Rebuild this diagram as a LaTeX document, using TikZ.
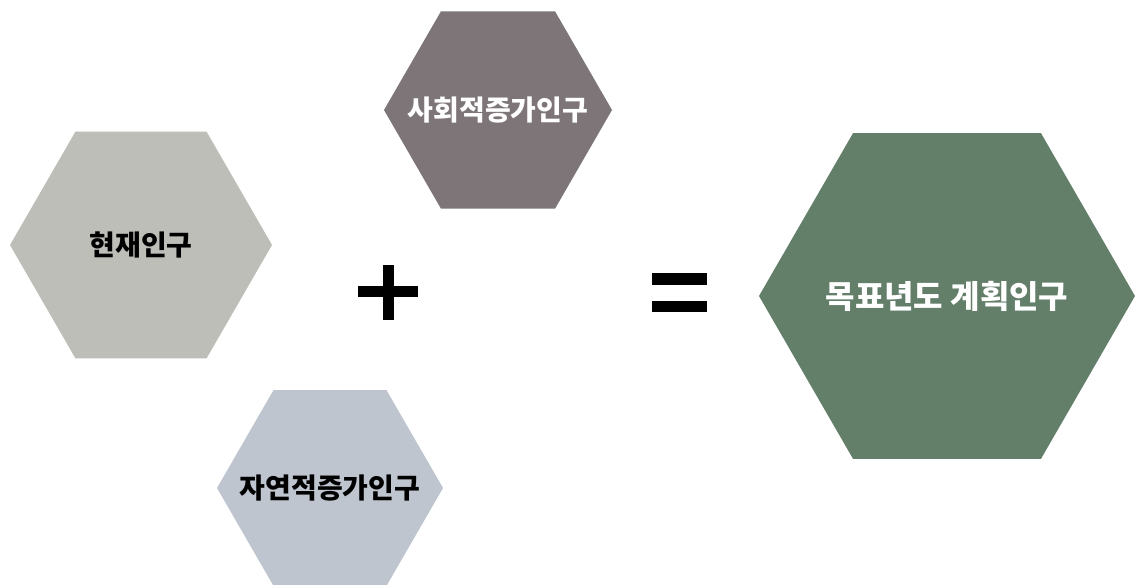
\documentclass[tikz,border=0pt]{standalone}
\usepackage{fontspec}
\newfontfamily\kr{Noto Sans CJK KR}
\usetikzlibrary{shapes.geometric}
\definecolor{hexA}{RGB}{189,190,184}
\definecolor{hexB}{RGB}{125,117,120}
\definecolor{hexC}{RGB}{190,197,207}
\definecolor{hexD}{RGB}{99,127,106}
\newcommand{\hx}[1]{\makebox[0pt]{#1}}
\tikzset{
  hexbox/.style={regular polygon, regular polygon sides=6, inner sep=0pt, draw=none, font=\kr\bfseries\fontsize{28}{32}\selectfont},
  opbar/.style={fill=black, draw=none}
}
\begin{document}
\begin{tikzpicture}[x=1pt,y=-1pt]
\useasboundingbox[fill=white] (0,0) rectangle (1136,585);
\node[hexbox, fill=hexA, minimum size=262pt, text=black] (cur) at (141,245) {\hx{현재인구}};
\node[hexbox, fill=hexB, minimum size=228pt, text=white] (soc) at (498,110) {\hx{사회적증가인구}};
\node[hexbox, fill=hexC, minimum size=226pt, text=black] (nat) at (330,488) {\hx{자연적증가인구}};
\node[hexbox, fill=hexD, minimum size=376pt, text=white, font=\kr\bfseries\fontsize{32}{36}\selectfont] (goal) at (947,296) {\hx{목표년도 계획인구}};
% plus
\fill[opbar] (383,265) rectangle (394,320);
\fill[opbar] (358,286) rectangle (418,297);
% equals
\fill[opbar] (652,273) rectangle (707,285);
\fill[opbar] (652,301) rectangle (707,312);
\end{tikzpicture}
\end{document}
